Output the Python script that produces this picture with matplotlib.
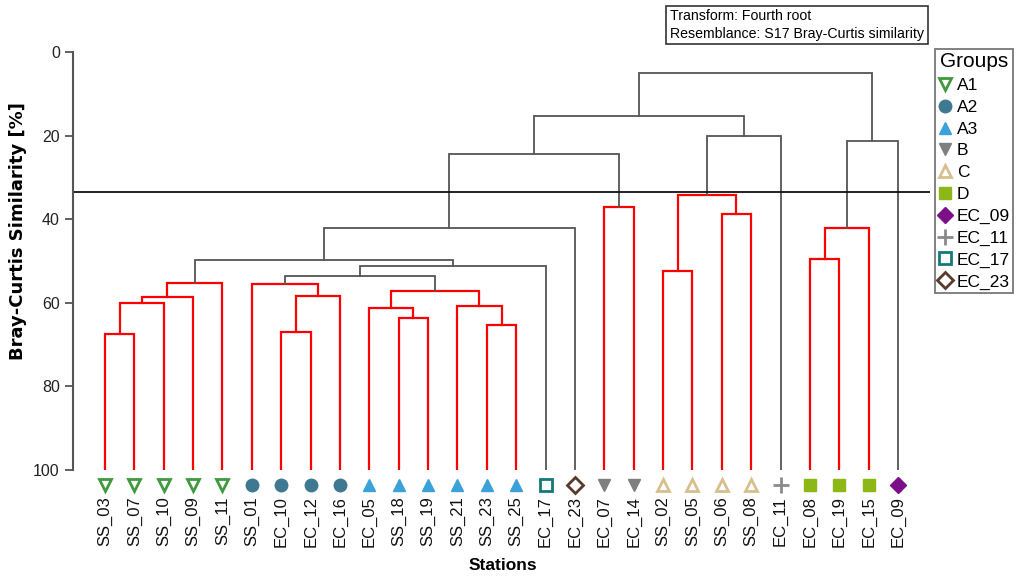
import numpy as np
import matplotlib.pyplot as plt
from matplotlib.lines import Line2D

plt.rcParams['font.family'] = ['Liberation Sans', 'DejaVu Sans']

# leaf order along the dendrogram and the group of each station
stations = ['SS_03', 'SS_07', 'SS_10', 'SS_09', 'SS_11', 'SS_01', 'EC_10', 'EC_12',
            'EC_16', 'EC_05', 'SS_18', 'SS_19', 'SS_21', 'SS_23', 'SS_25', 'EC_17',
            'EC_23', 'EC_07', 'EC_14', 'SS_02', 'SS_05', 'SS_06', 'SS_08', 'EC_11',
            'EC_08', 'EC_19', 'EC_15', 'EC_09']
station_group = ['A1', 'A1', 'A1', 'A1', 'A1', 'A2', 'A2', 'A2', 'A2', 'A3', 'A3', 'A3',
                 'A3', 'A3', 'A3', 'EC_17', 'EC_23', 'B', 'B', 'C', 'C', 'C', 'C',
                 'EC_11', 'D', 'D', 'D', 'EC_09']

# merges: children are station names or 'n<k>' for earlier merge k
merge_left = ['SS_03', 'n0', 'n1', 'n2', 'EC_10', 'n4', 'SS_01', 'SS_18', 'EC_05',
              'SS_23', 'SS_21', 'n8', 'n6', 'n12', 'n3', 'n14', 'EC_07', 'n15',
              'SS_02', 'SS_06', 'n18', 'n20', 'n17', 'EC_08', 'n23', 'n24', 'n22']
merge_right = ['SS_07', 'SS_10', 'SS_09', 'SS_11', 'EC_12', 'EC_16', 'n5', 'SS_19', 'n7',
               'SS_25', 'n9', 'n10', 'n11', 'EC_17', 'n13', 'EC_23', 'EC_14', 'n16',
               'SS_05', 'SS_08', 'n19', 'EC_11', 'n21', 'EC_19', 'EC_15', 'EC_09', 'n25']
merge_sim = [67.5, 60.0, 58.7, 55.3, 67.0, 58.3, 55.4, 63.6, 61.2, 65.3, 60.7, 57.1,
             53.6, 51.1, 49.8, 42.1, 37.0, 24.4, 52.3, 38.8, 34.2, 20.1, 15.4, 49.5,
             42.0, 21.4, 5.0]
# SIMPROF: red = no significant structure below this node
merge_red = [1, 1, 1, 1, 1, 1, 1, 1, 1, 1, 1, 1, 0, 0, 0, 0, 1, 0, 1, 1, 1, 0, 0, 1, 1, 0, 0]

cut_level = 33.4

group_names = ['A1', 'A2', 'A3', 'B', 'C', 'D', 'EC_09', 'EC_11', 'EC_17', 'EC_23']
group_style = {
    'A1': dict(marker='v', color='#3f9a3f', filled=False),
    'A2': dict(marker='o', color='#3f7891', filled=True),
    'A3': dict(marker='^', color='#3aa2d8', filled=True),
    'B': dict(marker='v', color='#7f7f7f', filled=True),
    'C': dict(marker='^', color='#d6bf8c', filled=False),
    'D': dict(marker='s', color='#8db716', filled=True),
    'EC_09': dict(marker='D', color='#7c0f88', filled=True),
    'EC_11': dict(marker='+', color='#8a8a8a', filled=True),
    'EC_17': dict(marker='s', color='#137a78', filled=False),
    'EC_23': dict(marker='D', color='#5a3a2a', filled=False),
}


def marker_kw(g, size):
    st = group_style[g]
    kw = dict(marker=st['marker'], markersize=size, linestyle='none')
    if st['marker'] == '+':
        kw.update(color=st['color'], markeredgewidth=2, markersize=size + 2)
    elif st['filled']:
        kw.update(markerfacecolor=st['color'], markeredgecolor=st['color'])
    else:
        kw.update(markerfacecolor='white', markeredgecolor=st['color'], markeredgewidth=2)
    if st['marker'] == 'D':
        kw['markersize'] = size * 0.85
    return kw


fig = plt.figure(figsize=(10.19, 5.76), dpi=100)
ax = fig.add_axes([73 / 1019, 1 - 470 / 576, (930 - 73) / 1019, (470 - 52) / 576])

pos = {s: (float(i), 100.0) for i, s in enumerate(stations)}
for k, (a, b, h) in enumerate(zip(merge_left, merge_right, merge_sim)):
    xa, ha = pos[a]
    xb, hb = pos[b]
    col = 'red' if merge_red[k] else '#555555'
    lw = 1.6 if merge_red[k] else 1.3
    ax.plot([xa, xa, xb, xb], [ha, h, h, hb], color=col, lw=lw, solid_joinstyle='miter')
    pos['n%d' % k] = ((xa + xb) / 2, h)

ax.axhline(cut_level, color='#111111', lw=1.3)

for i, g in enumerate(station_group):
    ax.plot(i, 103.6, clip_on=False, **marker_kw(g, 9))

ax.set_xlim(-1.09, 28.09)
ax.set_ylim(100, 0)
ax.set_yticks([0, 20, 40, 60, 80, 100])
ax.tick_params(axis='y', labelsize=11.5, length=6, width=1.3, color='#555555',
               labelcolor='#222222')
ax.set_xticks(range(len(stations)))
ax.set_xticklabels(stations, rotation=90, fontsize=12, color='#111111')
ax.tick_params(axis='x', length=0, pad=19)
for side in ['top', 'right', 'bottom']:
    ax.spines[side].set_visible(False)
ax.spines['left'].set_color('#555555')
ax.spines['left'].set_linewidth(1.5)

fig.text(18 / 1019, 1 - 231 / 576, 'Bray-Curtis Similarity [%]', rotation=90,
         ha='center', va='center', fontsize=13, fontweight='bold',
         family=['DejaVu Sans'])
fig.text(503 / 1019, 1 - 565 / 576, 'Stations', ha='center', va='center',
         fontsize=12.5, fontweight='bold')

fig.text(670 / 1019, 1 - 25 / 576, 'Transform: Fourth root\nResemblance: S17 Bray-Curtis similarity',
         ha='left', va='center', fontsize=10.2, linespacing=1.3,
         bbox=dict(boxstyle='square,pad=0.25', fc='white', ec='#333333', lw=1.2))

handles = [Line2D([], [], **marker_kw(g, 9)) for g in group_names]
leg = fig.legend(handles, group_names, title='Groups', loc='upper left',
                 bbox_to_anchor=(935 / 1019, 1 - 49 / 576), fontsize=12.5,
                 title_fontsize=15, frameon=True, fancybox=False,
                 handlelength=0.8, handletextpad=0.25, labelspacing=0.38,
                 borderpad=0.2, borderaxespad=0)
leg.get_frame().set_edgecolor('#555555')
leg.get_frame().set_linewidth(1.3)

fig.savefig('out.png', dpi=100)
